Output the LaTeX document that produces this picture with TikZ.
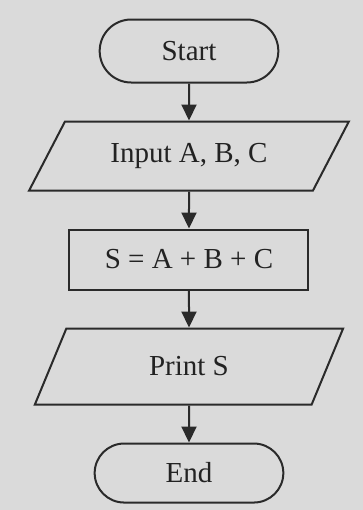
\documentclass[tikz,border=0pt]{standalone}
\usepackage{fontspec}
\setmainfont{Liberation Serif}
\usetikzlibrary{arrows.meta}
\usetikzlibrary{shapes.misc}
\usetikzlibrary{positioning}
\usetikzlibrary{shapes.geometric}
\definecolor{fc-paper}{HTML}{DADADA}
\definecolor{fc-line}{HTML}{2A2A2A}
\definecolor{fc-text}{HTML}{222222}

\begin{document}
\begin{tikzpicture}[
    node distance=18.5pt,
    font=\fontsize{14.5}{17}\selectfont,
    >={Triangle[length=8pt,width=7.5pt]}
  ]

  % Styles for the flowchart symbols
  \tikzset{
    terminal/.style={draw=fc-line, line width=1pt, rounded rectangle, minimum width=96pt, minimum height=31.5pt, text=fc-text, align=center},
    io/.style={draw=fc-line, line width=1pt, trapezium, trapezium stretches=true, trapezium left angle=57.5, trapezium right angle=122.5, minimum width=160pt, minimum height=34.5pt, text=fc-text, align=center},
    process/.style={draw=fc-line, line width=1pt, rectangle, minimum width=119.5pt, minimum height=30pt, text=fc-text, align=center},
    flow/.style={->, fc-line, line width=1pt}
  }

  % Paper background and fixed margins
  \fill[fc-paper] (-94.5pt,25.5pt) rectangle (87pt,-229.5pt);
  \useasboundingbox (-94.5pt,25.5pt) rectangle (87pt,-229.5pt);

  % Vertical chain of steps
  \node (start) [terminal] {Start};
  \node (input) [io, below=of start] {Input A, B, C};
  \node (sum)   [process, below=of input] {S = A + B + C};
  \node (print) [io, below=of sum, trapezium left angle=70, trapezium right angle=110, minimum width=155pt, minimum height=38pt] {Print S};
  \node (end)   [terminal, below=of print, minimum width=101pt, minimum height=29.5pt] {End};

  % Connectors
  \draw[flow] (start) -- (input);
  \draw[flow] (input) -- (sum);
  \draw[flow] (sum) -- (print);
  \draw[flow] (print) -- (end);

\end{tikzpicture}
\end{document}
